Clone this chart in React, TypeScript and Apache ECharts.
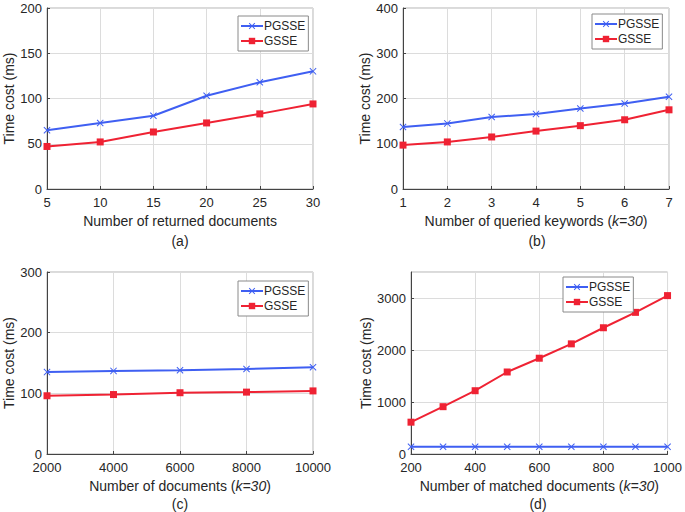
import React, { useEffect, useRef } from "react";
import * as echarts from "echarts";

const xA = [5, 10, 15, 20, 25, 30];
const pgA = [65, 73, 81, 103, 118, 130];
const gA = [47, 52, 63, 73, 83, 94];

const xB = [1, 2, 3, 4, 5, 6, 7];
const pgB = [137, 145, 159, 166, 178, 189, 204];
const gB = [97, 104, 115, 128, 140, 153, 175];

const xC = [2000, 4000, 6000, 8000, 10000];
const pgC = [135, 137, 138, 140, 143];
const gC = [96, 98, 101, 102, 104];

const xD = [200, 300, 400, 500, 600, 700, 800, 900, 1000];
const pgD = [138, 138, 138, 138, 138, 138, 138, 138, 140];
const gD = [612, 910, 1217, 1577, 1842, 2118, 2428, 2724, 3046];

const BLUE = "#3f5ff2";
const RED = "#ef2233";
const TXT = "#262626";
const FONT = "'Liberation Sans', Arial, Helvetica, sans-serif";
const XSYM = "path://M0,1L1,0L5,4L9,0L10,1L6,5L10,9L9,10L5,6L1,10L0,9L4,5Z";

const panels = [
  { x: xA, pg: pgA, g: gA, xmin: 5, xmax: 30, xint: 5, ymax: 200, yint: 50, xname: "Number of returned documents", k: false, sub: "(a)" },
  { x: xB, pg: pgB, g: gB, xmin: 1, xmax: 7, xint: 1, ymax: 400, yint: 100, xname: "Number of queried keywords ", k: true, sub: "(b)" },
  { x: xC, pg: pgC, g: gC, xmin: 2000, xmax: 10000, xint: 2000, ymax: 300, yint: 100, xname: "Number of documents ", k: true, sub: "(c)" },
  { x: xD, pg: pgD, g: gD, xmin: 200, xmax: 1000, xint: 200, ymax: 3500, yint: 1000, xname: "Number of matched documents ", k: true, sub: "(d)" },
];

const grids = [
  { left: 47, top: 8, width: 266, height: 181 },
  { left: 403, top: 8, width: 266, height: 181 },
  { left: 47, top: 272, width: 266, height: 182 },
  { left: 411, top: 272, width: 259, height: 182 },
];
const yNameGaps = [29, 29, 29, 37];
const legends = [
  { left: 238, top: 16 },
  { left: 592, top: 14 },
  { left: 238, top: 281 },
  { left: 563, top: 277 },
];
const subs = [
  { left: 180, top: 234 },
  { left: 537, top: 234 },
  { left: 180, top: 497 },
  { left: 538, top: 497 },
];

export default function App() {
  const ref = useRef<HTMLDivElement>(null);
  useEffect(() => {
    if (!ref.current) return;
    const chart = echarts.init(ref.current, null, { renderer: "svg" });
    const xAxis: any[] = [];
    const yAxis: any[] = [];
    const series: any[] = [];
    panels.forEach((p, i) => {
      xAxis.push({
        gridIndex: i,
        type: "value",
        min: p.xmin,
        max: p.xmax,
        interval: p.xint,
        name: p.k ? `{n|${p.xname}(}{i|k=30}{n|)}` : p.xname,
        nameLocation: "middle",
        nameGap: 25,
        nameTextStyle: {
          color: TXT,
          fontSize: 14,
          fontFamily: FONT,
          rich: {
            n: { fontSize: 14, fontFamily: FONT, color: TXT },
            i: { fontSize: 14, fontFamily: FONT, color: TXT, fontStyle: "italic" },
          },
        },
        axisLine: { show: true, onZero: false, lineStyle: { color: "#444", width: 1 } },
        axisTick: { show: true, inside: true, length: 3, lineStyle: { color: "#444" } },
        axisLabel: { color: TXT, fontSize: 13, fontFamily: FONT, margin: 7, formatter: (v: number) => String(v) },
        splitLine: { show: true, lineStyle: { color: "#dcdcdc", width: 1 } },
      });
      yAxis.push({
        gridIndex: i,
        type: "value",
        min: 0,
        max: p.ymax,
        interval: p.yint,
        name: "Time cost (ms)",
        nameLocation: "middle",
        nameGap: yNameGaps[i],
        nameTextStyle: { color: TXT, fontSize: 14, fontFamily: FONT },
        axisLine: { show: true, lineStyle: { color: "#444", width: 1 } },
        axisTick: { show: true, inside: true, length: 3, lineStyle: { color: "#444" } },
        axisLabel: { color: TXT, fontSize: 13, fontFamily: FONT, margin: 5, showMaxLabel: p.ymax % p.yint === 0, formatter: (v: number) => String(v) },
        splitLine: { show: true, lineStyle: { color: "#dcdcdc", width: 1 } },
      });
      series.push({
        name: "PGSSE",
        type: "line",
        xAxisIndex: i,
        yAxisIndex: i,
        data: p.x.map((v, j) => [v, p.pg[j]]),
        symbol: XSYM,
        symbolSize: 7,
        showAllSymbol: true,
        lineStyle: { color: BLUE, width: 2 },
        itemStyle: { color: BLUE },
      });
      series.push({
        name: "GSSE",
        type: "line",
        xAxisIndex: i,
        yAxisIndex: i,
        data: p.x.map((v, j) => [v, p.g[j]]),
        symbol: "rect",
        symbolSize: 7,
        showAllSymbol: true,
        lineStyle: { color: RED, width: 2 },
        itemStyle: { color: RED },
      });
    });
    chart.setOption({
      animation: false,
      backgroundColor: "#ffffff",
      grid: grids.map((g) => ({ ...g, show: true, borderColor: "#b5b5b5", borderWidth: 1, backgroundColor: "transparent" })),
      xAxis,
      yAxis,
      series,
      legend: legends.map((l) => ({
        ...l,
        orient: "vertical",
        data: ["PGSSE", "GSSE"],
        backgroundColor: "#ffffff",
        borderColor: "#8a8a8a",
        borderWidth: 1,
        padding: [4, 3, 4, 2],
        itemGap: 3,
        itemWidth: 22,
        itemHeight: 8,
        textStyle: { color: TXT, fontSize: 12, fontFamily: FONT, padding: [0, 0, 0, -4] },
      })),
      title: panels.map((p, i) => ({
        text: p.sub,
        left: subs[i].left,
        top: subs[i].top,
        padding: 0,
        textAlign: "center",
        textStyle: { color: TXT, fontSize: 14, fontWeight: "normal", fontFamily: FONT },
      })),
    });
    return () => chart.dispose();
  }, []);
  return <div ref={ref} style={{ width: 685, height: 512, position: "absolute", left: 0, top: 0 }} />;
}
